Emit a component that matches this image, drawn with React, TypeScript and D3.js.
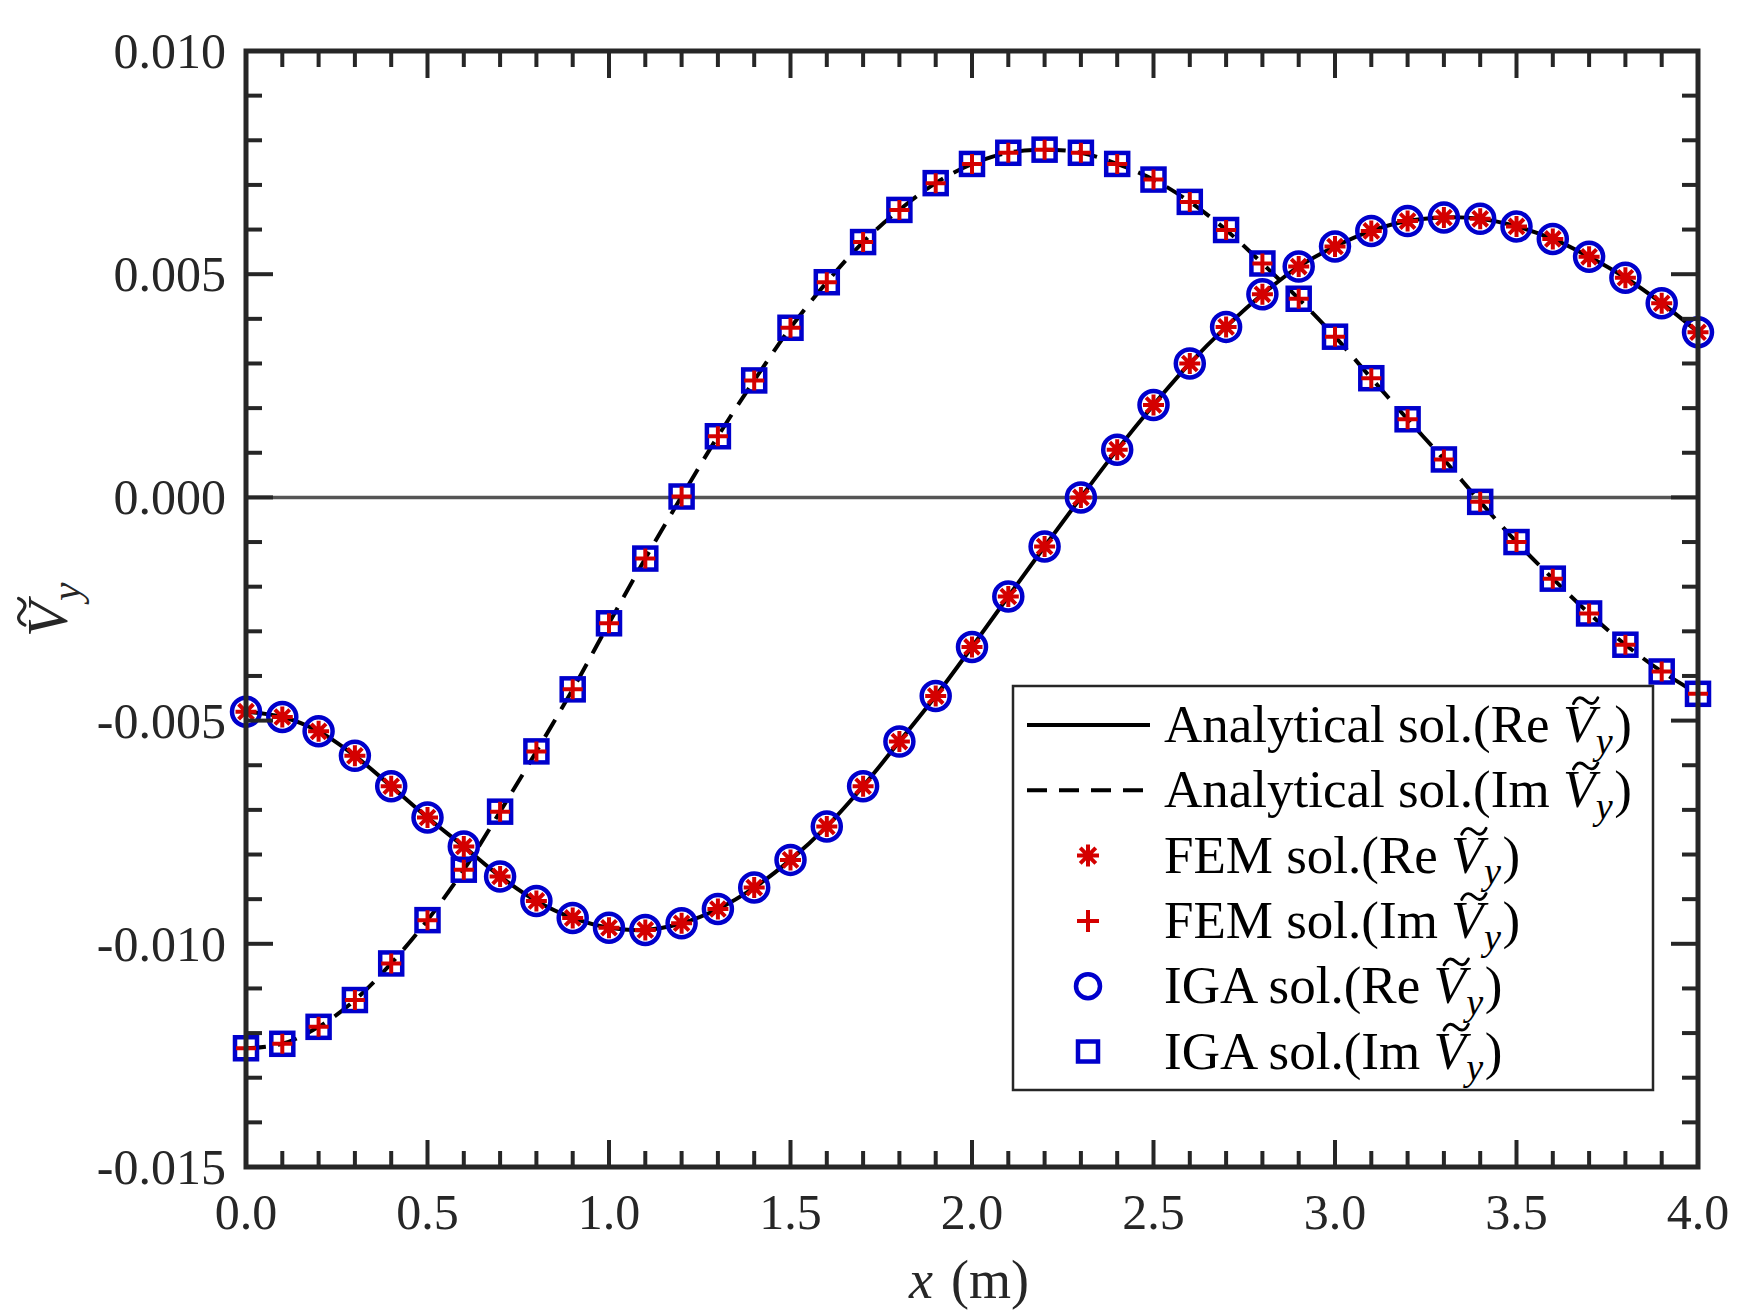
import { useEffect, useRef } from "react"
import * as d3 from "d3"

// sample positions along the beam (m)
const xValues = [
  0.0, 0.1, 0.2, 0.3, 0.4, 0.5, 0.6, 0.7, 0.8, 0.9, 1.0, 1.1, 1.2, 1.3, 1.4, 1.5, 1.6, 1.7, 1.8, 1.9, 2.0,
  2.1, 2.2, 2.3, 2.4, 2.5, 2.6, 2.7, 2.8, 2.9, 3.0, 3.1, 3.2, 3.3, 3.4, 3.5, 3.6, 3.7, 3.8, 3.9, 4.0,
]

// Re(V~y)
const reValues = [
  -0.00480, -0.00492, -0.00524, -0.00579, -0.00647, -0.00717, -0.00782, -0.00849, -0.00904, -0.00942,
  -0.00964, -0.00969, -0.00954, -0.00922, -0.00874, -0.00812, -0.00737, -0.00647, -0.00547, -0.00445,
  -0.00335, -0.00222, -0.00110, 0.00000, 0.00107, 0.00207, 0.00300, 0.00382, 0.00455, 0.00517,
  0.00562, 0.00597, 0.00619, 0.00627, 0.00624, 0.00607, 0.00579, 0.00539, 0.00492, 0.00435, 0.00370,
]

// Im(V~y)
const imValues = [
  -0.01234, -0.01224, -0.01186, -0.01126, -0.01044, -0.00947, -0.00834, -0.00704, -0.00569, -0.00430,
  -0.00282, -0.00137, 0.00002, 0.00137, 0.00262, 0.00380, 0.00482, 0.00572, 0.00644, 0.00704,
  0.00747, 0.00772, 0.00779, 0.00772, 0.00747, 0.00712, 0.00662, 0.00599, 0.00524, 0.00445,
  0.00360, 0.00267, 0.00175, 0.00085, -0.00010, -0.00100, -0.00182, -0.00260, -0.00330, -0.00390, -0.00440,
]

const xTicks = [0, 0.5, 1.0, 1.5, 2.0, 2.5, 3.0, 3.5, 4.0]
const yTicks = [-0.015, -0.01, -0.005, 0, 0.005, 0.01]

const legendItems = [
  { kind: "solid", text: "Analytical sol.(Re " },
  { kind: "dashed", text: "Analytical sol.(Im " },
  { kind: "asterisk", text: "FEM sol.(Re " },
  { kind: "plus", text: "FEM sol.(Im " },
  { kind: "circle", text: "IGA sol.(Re " },
  { kind: "square", text: "IGA sol.(Im " },
]

const RED = "#d40000"
const BLUE = "#0000cc"
const AXIS = "#262626"
const FONT = "'Liberation Serif', 'Times New Roman', serif"
const DASH = "20,12"

const asteriskPath = (s: number) => {
  const d = s * 0.7071
  return `M${-s},0H${s}M0,${-s}V${s}M${-d},${-d}L${d},${d}M${-d},${d}L${d},${-d}`
}
const plusPath = (s: number) => `M${-s},0H${s}M0,${-s}V${s}`

// italic V + subscript y, then a drawn tilde above the V
function appendVy(parent: any, text: any, fs: number, baseY: number, closing: string) {
  const v = text.append("tspan").attr("font-style", "italic").text("V")
  text
    .append("tspan")
    .attr("font-style", "italic")
    .attr("font-size", fs * 0.72)
    .attr("dx", fs * 0.01)
    .attr("dy", fs * 0.22)
    .text("y")
  if (closing) {
    text.append("tspan").attr("dy", -fs * 0.22).attr("dx", fs * 0.03).text(closing)
  }
  let bx = 0
  let bw = fs * 0.6
  try {
    const b = (v.node() as SVGGraphicsElement).getBBox()
    bx = b.x
    bw = b.width
  } catch (e) {
    bx = 0
  }
  const cx = bx + bw * 0.6
  const cy = baseY - fs * 0.78
  const w = fs * 0.46
  const a = fs * 0.055
  parent
    .append("path")
    .attr(
      "d",
      `M${cx - w / 2},${cy + a} C${cx - w / 3},${cy - 2 * a} ${cx - w / 8},${cy - a} ${cx},${cy}` +
        ` S${cx + w / 3},${cy + 2 * a} ${cx + w / 2},${cy - a}`
    )
    .attr("fill", "none")
    .attr("stroke", text.attr("fill") || "#000")
    .attr("stroke-width", fs * 0.055)
    .attr("stroke-linecap", "round")
}

export default function App() {
  const svgRef = useRef<SVGSVGElement>(null)

  useEffect(() => {
    if (!svgRef.current) return
    document.body.style.margin = "0"
    const svg = d3.select(svgRef.current)
    svg.selectAll("*").remove()

    const left = 246
    const right = 1698
    const top = 51
    const bottom = 1167

    const x = d3.scaleLinear().domain([0, 4]).range([left, right])
    const y = d3.scaleLinear().domain([-0.015, 0.01]).range([bottom, top])

    svg.append("rect").attr("width", 1750).attr("height", 1311).attr("fill", "#fff")

    // zero line
    svg
      .append("line")
      .attr("x1", left)
      .attr("x2", right)
      .attr("y1", y(0))
      .attr("y2", y(0))
      .attr("stroke", "#555")
      .attr("stroke-width", 3.5)

    // analytical curves
    const pts = (vals: number[]) => xValues.map((xv, i) => [xv, vals[i]] as [number, number])
    const line = d3
      .line<[number, number]>()
      .x((d) => x(d[0]))
      .y((d) => y(d[1]))
      .curve(d3.curveCatmullRom)

    svg
      .append("path")
      .attr("d", line(pts(reValues)))
      .attr("fill", "none")
      .attr("stroke", "#000")
      .attr("stroke-width", 4)

    svg
      .append("path")
      .attr("d", line(pts(imValues)))
      .attr("fill", "none")
      .attr("stroke", "#000")
      .attr("stroke-width", 4)
      .attr("stroke-dasharray", DASH)

    // IGA markers
    svg
      .selectAll("circle.iga")
      .data(pts(reValues))
      .enter()
      .append("circle")
      .attr("cx", (d) => x(d[0]))
      .attr("cy", (d) => y(d[1]))
      .attr("r", 14)
      .attr("fill", "none")
      .attr("stroke", BLUE)
      .attr("stroke-width", 4.5)

    svg
      .selectAll("rect.iga")
      .data(pts(imValues))
      .enter()
      .append("rect")
      .attr("x", (d) => x(d[0]) - 11)
      .attr("y", (d) => y(d[1]) - 11)
      .attr("width", 22)
      .attr("height", 22)
      .attr("fill", "none")
      .attr("stroke", BLUE)
      .attr("stroke-width", 4.5)

    // FEM markers
    svg
      .selectAll("path.ast")
      .data(pts(reValues))
      .enter()
      .append("path")
      .attr("d", asteriskPath(10.5))
      .attr("transform", (d) => `translate(${x(d[0])},${y(d[1])})`)
      .attr("stroke", RED)
      .attr("stroke-width", 4)
      .attr("fill", "none")

    svg
      .selectAll("path.plus")
      .data(pts(imValues))
      .enter()
      .append("path")
      .attr("d", plusPath(10))
      .attr("transform", (d) => `translate(${x(d[0])},${y(d[1])})`)
      .attr("stroke", RED)
      .attr("stroke-width", 4)
      .attr("fill", "none")

    // axes box
    const axis = svg.append("g").attr("stroke", AXIS).attr("stroke-linecap", "square")
    axis
      .append("rect")
      .attr("x", left)
      .attr("y", top)
      .attr("width", right - left)
      .attr("height", bottom - top)
      .attr("fill", "none")
      .attr("stroke-width", 5)

    const xMinor = d3.range(0, 4.0001, 0.1)
    const yMinor = d3.range(-0.015, 0.01001, 0.001)
    const isMajor = (v: number, arr: number[]) => arr.some((t) => Math.abs(t - v) < 1e-9)

    xMinor.forEach((v) => {
      const len = isMajor(v, xTicks) ? 25 : 14
      const px = x(v)
      axis.append("line").attr("x1", px).attr("x2", px).attr("y1", bottom).attr("y2", bottom - len).attr("stroke-width", 4)
      axis.append("line").attr("x1", px).attr("x2", px).attr("y1", top).attr("y2", top + len).attr("stroke-width", 4)
    })
    yMinor.forEach((v) => {
      const len = isMajor(v, yTicks) ? 25 : 14
      const py = y(v)
      axis.append("line").attr("x1", left).attr("x2", left + len).attr("y1", py).attr("y2", py).attr("stroke-width", 4)
      axis.append("line").attr("x1", right).attr("x2", right - len).attr("y1", py).attr("y2", py).attr("stroke-width", 4)
    })

    // tick labels
    const fs = 50
    xTicks.forEach((v) => {
      svg
        .append("text")
        .attr("x", x(v))
        .attr("y", 1229)
        .attr("text-anchor", "middle")
        .attr("font-family", FONT)
        .attr("font-size", fs)
        .attr("fill", AXIS)
        .text(v.toFixed(1))
    })
    yTicks.forEach((v) => {
      svg
        .append("text")
        .attr("x", 226)
        .attr("y", y(v))
        .attr("dy", "0.34em")
        .attr("text-anchor", "end")
        .attr("font-family", FONT)
        .attr("font-size", fs)
        .attr("fill", AXIS)
        .text(v.toFixed(3))
    })

    // axis titles
    const xl = svg
      .append("text")
      .attr("x", 969)
      .attr("y", 1298)
      .attr("text-anchor", "middle")
      .attr("font-family", FONT)
      .attr("font-size", 54)
      .attr("fill", AXIS)
    xl.append("tspan").attr("font-style", "italic").text("x")
    xl.append("tspan").attr("dx", 18).text("(m)")

    const ylg = svg.append("g").attr("transform", "translate(67,637) rotate(-90)")
    const yl = ylg
      .append("text")
      .attr("x", 0)
      .attr("y", 0)
      .attr("font-family", FONT)
      .attr("font-size", 58)
      .attr("fill", AXIS)
    appendVy(ylg, yl, 58, 0, "")

    // legend
    const lg = svg.append("g")
    lg.append("rect")
      .attr("x", 1013)
      .attr("y", 686)
      .attr("width", 640)
      .attr("height", 404)
      .attr("fill", "#fff")
      .attr("stroke", AXIS)
      .attr("stroke-width", 2.5)

    legendItems.forEach((item, i) => {
      const cy = 725 + i * 65.3
      const mx = 1088
      if (item.kind === "solid" || item.kind === "dashed") {
        const l = lg
          .append("line")
          .attr("x1", 1027)
          .attr("x2", 1150)
          .attr("y1", cy)
          .attr("y2", cy)
          .attr("stroke", "#000")
          .attr("stroke-width", 4)
        if (item.kind === "dashed") l.attr("stroke-dasharray", DASH)
      } else if (item.kind === "asterisk") {
        lg.append("path").attr("d", asteriskPath(11)).attr("transform", `translate(${mx},${cy})`)
          .attr("stroke", RED).attr("stroke-width", 4).attr("fill", "none")
      } else if (item.kind === "plus") {
        lg.append("path").attr("d", plusPath(11)).attr("transform", `translate(${mx},${cy})`)
          .attr("stroke", RED).attr("stroke-width", 4).attr("fill", "none")
      } else if (item.kind === "circle") {
        lg.append("circle").attr("cx", mx).attr("cy", cy).attr("r", 12)
          .attr("stroke", BLUE).attr("stroke-width", 4.5).attr("fill", "none")
      } else {
        lg.append("rect").attr("x", mx - 10).attr("y", cy - 10).attr("width", 20).attr("height", 20)
          .attr("stroke", BLUE).attr("stroke-width", 4.5).attr("fill", "none")
      }
      const ty = cy + 17
      const t = lg
        .append("text")
        .attr("x", 1164)
        .attr("y", ty)
        .attr("font-family", FONT)
        .attr("font-size", 53)
        .attr("fill", "#000")
        .attr("xml:space", "preserve")
      t.append("tspan").text(item.text)
      appendVy(lg, t, 53, ty, ")")
    })
  }, [])

  return <svg ref={svgRef} width={1750} height={1311} style={{ display: "block" }} />
}
